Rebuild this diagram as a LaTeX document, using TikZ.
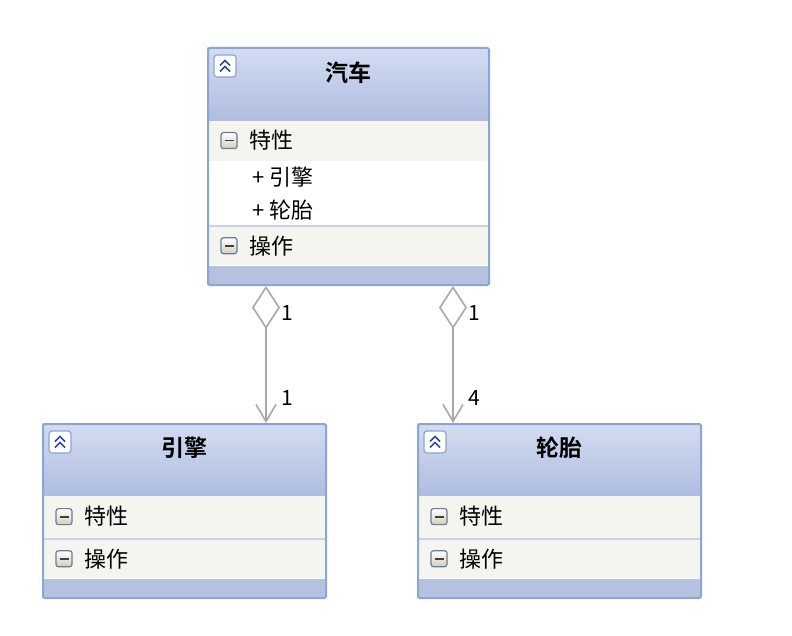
\documentclass[tikz,border=0pt]{standalone}
\usepackage{fontspec}
\setmainfont{Noto Sans CJK SC}[BoldFont={Noto Sans CJK SC Bold}]
\usetikzlibrary{arrows.meta}
\definecolor{framecol}{HTML}{8AA5D6}
\definecolor{headtop}{HTML}{D3DCF1}
\definecolor{headbot}{HTML}{AFBDE0}
\definecolor{sectcol}{HTML}{F3F5EE}
\definecolor{footcol}{HTML}{B4C1DF}
\definecolor{sepcol}{HTML}{C6D3EA}
\definecolor{chevcol}{HTML}{2E4A9A}
\definecolor{mincol}{HTML}{D6CDBA}
\definecolor{linkcol}{HTML}{A8A8A8}
\tikzset{
  classframe/.style={
    rectangle,
    draw=framecol,
    line width=2pt,
    rounded corners=1.5pt,
    anchor=north west,
    inner sep=0pt
  },
  head/.style={rectangle, top color=headtop, bottom color=headbot, anchor=north west, inner sep=0pt},
  sect/.style={rectangle, fill=sectcol, anchor=north west, inner sep=0pt},
  foot/.style={rectangle, fill=footcol, anchor=north west, inner sep=0pt},
  classname/.style={font=\fontsize{23pt}{26pt}\selectfont\bfseries, inner sep=0pt},
  member/.style={font=\fontsize{22pt}{26pt}\selectfont, inner sep=0pt, anchor=west},
  mult/.style={font=\fontsize{21pt}{24pt}\selectfont, inner sep=0pt},
  expbox/.style={rectangle, draw=framecol, fill=white, rounded corners=3pt, minimum size=22pt, line width=1.2pt},
  chev/.style={draw=chevcol, line width=1.6pt},
  minbox/.style={rectangle, draw=framecol!75!black, top color=white, bottom color=mincol, rounded corners=2.5pt, minimum size=16pt, line width=1.2pt},
  minbar/.style={draw=black!75, line width=1.8pt}
}
\tikzstyle{aggr} = [draw=linkcol, line width=1.6pt, {Diamond[open, length=43pt, width=28pt]}-{Straight Barb[length=17pt, width=20pt]}]
\newcommand\expandicon[2]{%
  \node[expbox] (#1) at (#2) {};
  \draw[chev] ([shift={(-5pt,0.5pt)}]#1.center) -- ++(5pt,5pt) -- ++(5pt,-5pt);
  \draw[chev] ([shift={(-5pt,-5.5pt)}]#1.center) -- ++(5pt,5pt) -- ++(5pt,-5pt);
}
\newcommand\minusicon[2]{%
  \node[minbox] (#1) at (#2) {};
  \draw[minbar] ([xshift=-4.5pt]#1.center) -- ([xshift=4.5pt]#1.center);
}

\begin{document}
\begin{tikzpicture}[x=1pt, y=-1pt]
    \path[fill=white] (0,0) rectangle (792,636);
    \useasboundingbox (0,0) rectangle (792,636);
    % 汽车
    \node[head, minimum width=281pt, minimum height=73pt] (carHead) at (207,47) {};
    \node[sect, minimum width=281pt, minimum height=40pt] (carAttr) at (carHead.south west) {};
    \node[sect, minimum width=281pt, minimum height=39pt] (carOps) at (207,226) {};
    \node[foot, minimum width=281pt, minimum height=19pt] (carFoot) at (carOps.south west) {};
    \draw[sepcol, line width=1.5pt] (carOps.north west) -- (carOps.north east);
    \node[classframe, minimum width=281pt, minimum height=237pt] (car) at (207,47) {};
    \node[classname] (carName) at ([yshift=-26pt]car.north) {汽车};
    \expandicon{carExp}{[xshift=18pt, yshift=-19pt]car.north west}
    \minusicon{carAttrMin}{[xshift=22pt]carAttr.west}
    \node[member] (carAttrTxt) at ([xshift=42pt]carAttr.west) {特性};
    \node[member] (carEngine) at (252,177) {+ 引擎};
    \node[member] (carTire) at (252,210) {+ 轮胎};
    \minusicon{carOpsMin}{[xshift=22pt]carOps.west}
    \node[member] (carOpsTxt) at ([xshift=42pt]carOps.west) {操作};
    % 引擎
    \node[head, minimum width=283pt, minimum height=72pt] (engHead) at (42,423) {};
    \node[sect, minimum width=283pt, minimum height=42pt] (engAttr) at (engHead.south west) {};
    \node[sect, minimum width=283pt, minimum height=39pt] (engOps) at (42,539) {};
    \node[foot, minimum width=283pt, minimum height=19pt] (engFoot) at (engOps.south west) {};
    \draw[sepcol, line width=1.5pt] (engOps.north west) -- (engOps.north east);
    \node[classframe, minimum width=283pt, minimum height=174pt] (engine) at (42,423) {};
    \node[classname] (engName) at ([yshift=-25pt]engine.north) {引擎};
    \expandicon{engExp}{[xshift=18pt, yshift=-19pt]engine.north west}
    \minusicon{engAttrMin}{[xshift=22pt]engAttr.west}
    \node[member] (engAttrTxt) at ([xshift=42pt]engAttr.west) {特性};
    \minusicon{engOpsMin}{[xshift=22pt]engOps.west}
    \node[member] (engOpsTxt) at ([xshift=42pt]engOps.west) {操作};
    % 轮胎
    \node[head, minimum width=283pt, minimum height=72pt] (tireHead) at (417,423) {};
    \node[sect, minimum width=283pt, minimum height=42pt] (tireAttr) at (tireHead.south west) {};
    \node[sect, minimum width=283pt, minimum height=39pt] (tireOps) at (417,539) {};
    \node[foot, minimum width=283pt, minimum height=19pt] (tireFoot) at (tireOps.south west) {};
    \draw[sepcol, line width=1.5pt] (tireOps.north west) -- (tireOps.north east);
    \node[classframe, minimum width=283pt, minimum height=174pt] (tire) at (417,423) {};
    \node[classname] (tireName) at ([yshift=-25pt]tire.north) {轮胎};
    \expandicon{tireExp}{[xshift=18pt, yshift=-19pt]tire.north west}
    \minusicon{tireAttrMin}{[xshift=22pt]tireAttr.west}
    \node[member] (tireAttrTxt) at ([xshift=42pt]tireAttr.west) {特性};
    \minusicon{tireOpsMin}{[xshift=22pt]tireOps.west}
    \node[member] (tireOpsTxt) at ([xshift=42pt]tireOps.west) {操作};
    % links
    \draw[aggr] ([xshift=59pt]car.south west) -- ([xshift=59pt]car.south west |- engine.north)
        node[mult, pos=0.2, right=15pt] {1} node[mult, pos=0.82, right=15pt] {1};
    \draw[aggr] ([xshift=246pt]car.south west) -- ([xshift=246pt]car.south west |- tire.north)
        node[mult, pos=0.2, right=15pt] {1} node[mult, pos=0.82, right=15pt] {4};
\end{tikzpicture}
\end{document}
